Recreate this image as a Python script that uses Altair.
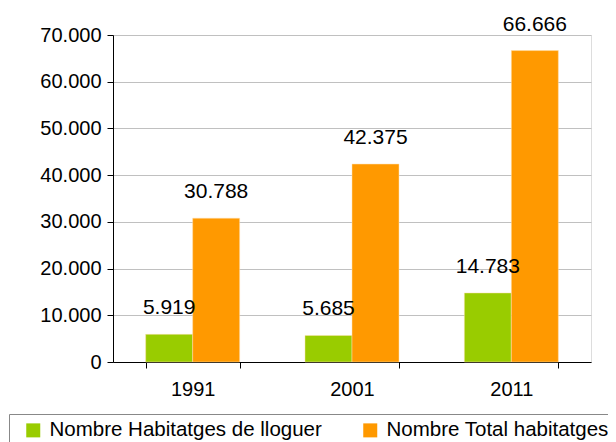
import altair as alt
import pandas as pd

years = ["1991", "2001", "2011"]
series = ["Nombre Habitatges de lloguer", "Nombre Total habitatges"]
lloguer = [5919, 5685, 14783]
total = [30788, 42375, 66666]
colors = ["#99CC00", "#FF9900"]

rows = []
for i, y in enumerate(years):
    rows.append({"year": y, "serie": series[0], "value": lloguer[i]})
    rows.append({"year": y, "serie": series[1], "value": total[i]})
df = pd.DataFrame(rows)

W, H = 478, 327

xenc = alt.X("year:N", title=None,
             scale=alt.Scale(paddingInner=0.41, paddingOuter=0.205),
             axis=alt.Axis(labelAngle=0, tickBand="extent", labelPadding=11, grid=False))
xo = alt.XOffset("serie:N", sort=series, scale=alt.Scale(paddingInner=0, paddingOuter=0))
yenc = alt.Y("value:Q", title=None,
             scale=alt.Scale(domain=[0, 70000], nice=False),
             axis=alt.Axis(values=[0, 10000, 20000, 30000, 40000, 50000, 60000, 70000],
                           labelExpr="replace(format(datum.value, ','), ',', '.')",
                           labelPadding=6))

bars = alt.Chart(df).mark_bar(stroke="#ffe0b0", strokeWidth=0.5).encode(
    x=xenc,
    xOffset=xo,
    y=yenc,
    color=alt.Color("serie:N", sort=series,
                    scale=alt.Scale(domain=series, range=colors),
                    legend=alt.Legend(title=None, orient="none", legendX=-104, legendY=379,
                                      direction="horizontal", columns=2,
                                      symbolType="square", symbolSize=196, symbolStrokeWidth=0,
                                      symbolOffset=8,
                                      columnPadding=30, labelOffset=6,
                                      strokeColor="#888", padding=6,
                                      fillColor="white", labelLimit=400)),
)

labels = alt.Chart(df).transform_calculate(
    lab="replace(format(datum.value, ','), ',', '.')"
).mark_text(dy=-26, fontSize=21, font="Liberation Sans", color="#000").encode(
    x=xenc,
    xOffset=xo,
    y=yenc,
    text="lab:N",
)

chart = alt.layer(bars, labels).properties(
    width=W, height=H,
    padding={"left": 105, "top": 27, "right": 17, "bottom": 85},
    autosize=alt.AutoSizeParams(type="none"),
).configure_view(stroke=None).configure(background="white").configure_axis(
    labelFontSize=20, labelFont="Liberation Sans", labelColor="#000",
    domainColor="#000", tickColor="#000", tickSize=6,
    gridColor="#c0c0c0", gridWidth=1,
).configure_axisX(grid=False).configure_legend(
    labelFontSize=20.5, labelFont="Liberation Sans", labelColor="#000",
)

chart.save("out.html", embed_options={"renderer": "svg", "actions": False})
